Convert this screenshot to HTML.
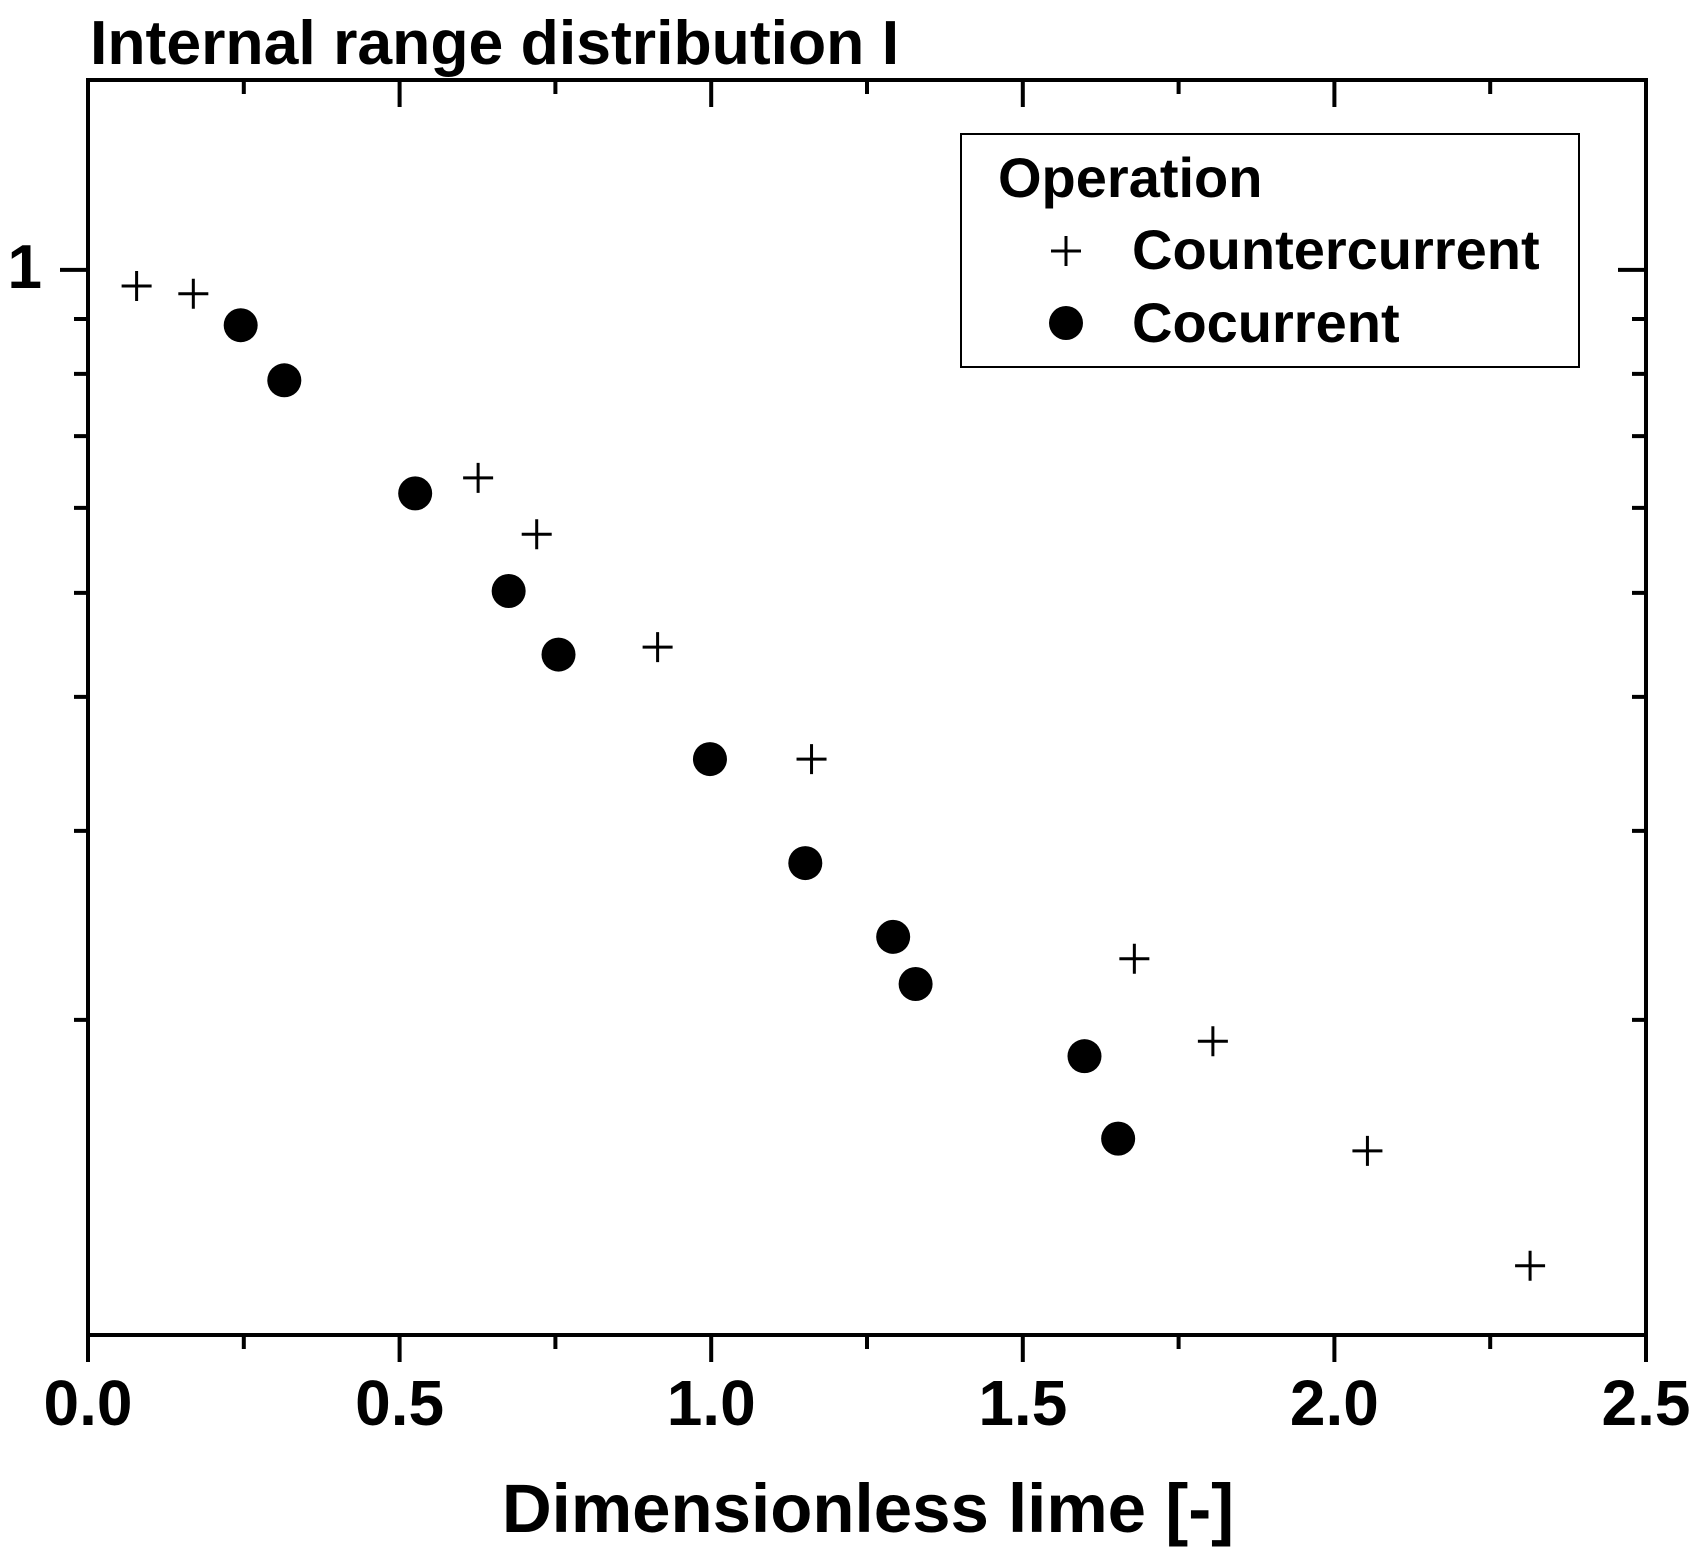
<!DOCTYPE html>
<html><head><meta charset="utf-8"><style>
html,body{margin:0;padding:0;background:#fff}
svg text{font-family:"Liberation Sans",Arial,sans-serif;font-weight:bold;fill:#000}
</style></head><body>
<svg id="chart" width="1700" height="1555" xmlns="http://www.w3.org/2000/svg">
<text x="90" y="64" font-size="62.5">Internal range distribution I</text>
<rect x="88" y="80" width="1558" height="1255" fill="none" stroke="#000" stroke-width="4"/>
<g id="ticks"></g>
<g id="marks"></g>
<text x="868" y="1532" font-size="69" text-anchor="middle">Dimensionless lime [-]</text>
<g>
<rect x="961" y="134" width="618" height="233" fill="#fff" stroke="#000" stroke-width="2"/>
<text x="998" y="197" font-size="56">Operation</text>
<g>
<path d="M1051 251h30M1066 236v30" stroke="#000" stroke-width="3"/>
<text x="1132" y="269" font-size="56">Countercurrent</text></g>
<g>
<circle cx="1066" cy="323" r="17" fill="#000"/>
<text x="1132" y="342" font-size="56">Cocurrent</text></g>
</g>
</svg>
<script>
const counterX=[0.078,0.169,0.626,0.720,0.914,1.161,1.679,1.805,2.053,2.314];
const counterY=[0.966,0.950,0.640,0.567,0.445,0.350,0.228,0.191,0.151,0.118];
const coX=[0.245,0.315,0.525,0.675,0.755,0.998,1.151,1.292,1.328,1.599,1.653];
const coY=[0.888,0.789,0.619,0.502,0.438,0.350,0.280,0.239,0.216,0.185,0.155];
const xTicks=["0.0","0.5","1.0","1.5","2.0","2.5"];
const yMinor=[0.9,0.8,0.7,0.6,0.5,0.4,0.3,0.2];
const NS="http://www.w3.org/2000/svg";
const L=88,R=1646,T=80,B=1335,ymin=0.1017,ymax=1.503;
const xs=v=>L+(v-0)/2.5*(R-L);
const ys=v=>B-(Math.log10(v)-Math.log10(ymin))/(Math.log10(ymax)-Math.log10(ymin))*(B-T);
function mk(tag,attrs,parent){const e=document.createElementNS(NS,tag);for(const k in attrs)e.setAttribute(k,attrs[k]);parent.appendChild(e);return e;}
const tg=document.getElementById('ticks');
for(let i=0;i<=10;i++){const v=i*0.25,x=xs(v),maj=i%2==0,len=maj?27:14;
 const t=mk('path',{d:`M${x} ${B}v${len}M${x} ${T}v${len}`,stroke:'#000','stroke-width':4},tg);
 
 
 if(maj){const lb=mk('text',{x:x,y:1425,'font-size':64,'text-anchor':'middle'},tg);lb.textContent=xTicks[i/2];
 
 }}
{const y=ys(1);const t=mk('path',{d:`M${L-28} ${y}h28M${R} ${y}h-28`,stroke:'#000','stroke-width':4},tg);
 
 
 const lb=mk('text',{x:42,y:288,'font-size':62,'text-anchor':'end'},tg);lb.textContent='1';
 
 }
yMinor.forEach(v=>{const y=ys(v);const t=mk('path',{d:`M${L-14} ${y}h14M${R} ${y}h-14`,stroke:'#000','stroke-width':4},tg);
 
 });
const mg=document.getElementById('marks');
counterX.forEach((v,i)=>{const x=xs(v),y=ys(counterY[i]);
 const p=mk('path',{d:`M${x-15} ${y}h30M${x} ${y-15}v30`,stroke:'#000','stroke-width':3},mg);
 
 });
coX.forEach((v,i)=>{const c=mk('circle',{cx:xs(v),cy:ys(coY[i]),r:17,fill:'#000'},mg);
 
 });
</script>
</body></html>
